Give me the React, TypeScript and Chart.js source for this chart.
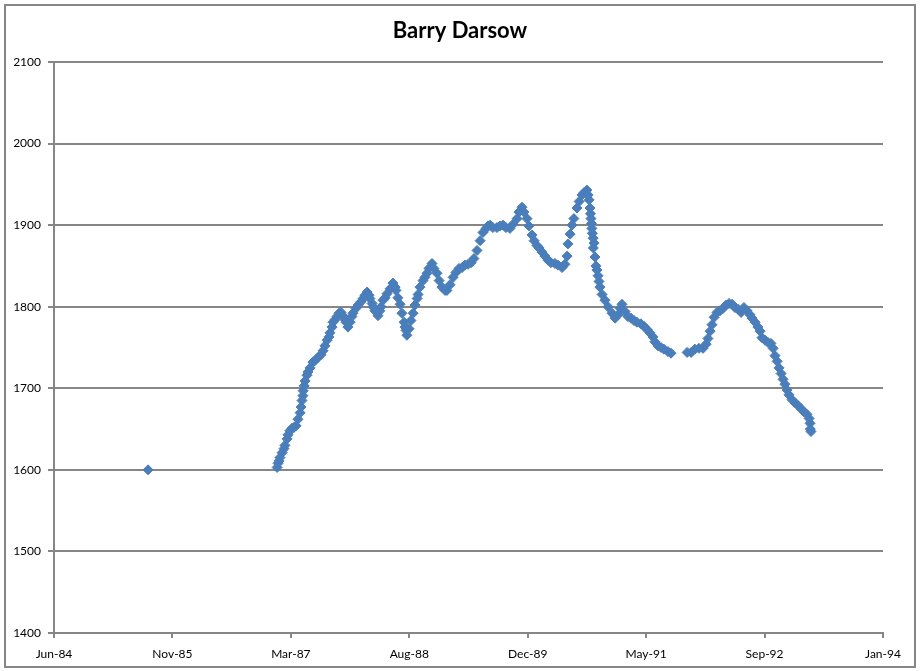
import { useEffect, useRef } from 'react';
import { Chart, registerables } from 'chart.js';

Chart.register(...registerables);

// X values are Excel date serials (days), Y values are ratings.
const dates = [
  // 1985
  31257,
  // 1987 rise
  31802, 31806, 31810, 31814, 31823, 31831, 31835, 31844, 31848, 31856,
  31865, 31873, 31882, 31890, 31899, 31903, 31907, 31911, 31912, 31916,
  31920, 31928, 31932, 31941, 31953, 31962, 31975, 31987, 31996, 32004,
  32013, 32021, 32025, 32034, 32038, 32046, 32055,
  // 1987-1989
  32063, 32072, 32080, 32089, 32093, 32101, 32110, 32118, 32122, 32135,
  32144, 32156, 32165, 32173, 32182, 32190, 32194, 32203, 32207, 32215,
  32228, 32236, 32241, 32249, 32258, 32266, 32279, 32291, 32300, 32304,
  32312, 32321, 32329, 32338, 32342, 32346, 32350, 32359, 32367, 32376,
  32384, 32393, 32397, 32405, 32418, 32426, 32435, 32443, 32456, 32464,
  32477, 32486, 32498, 32511, 32519, 32532, 32545, 32557, 32570, 32583,
  32595, 32608, 32621, 32633, 32646,
  // 1989-1991
  32659, 32671, 32684, 32692, 32701, 32713, 32730, 32743, 32756, 32768,
  32785, 32798, 32815, 32823, 32836, 32844, 32857, 32865, 32878, 32887,
  32899, 32908, 32920, 32933, 32946, 32958, 32975, 32988, 33005, 33017,
  33026, 33030, 33039, 33047, 33055, 33068, 33077, 33089, 33098, 33110,
  33115, 33119, 33123, 33125, 33127, 33129, 33131, 33133, 33136, 33137,
  33140, 33144, 33148, 33152, 33157, 33161, 33165,
  33174, 33186, 33199, 33216, 33229, 33241, 33250, 33258, 33271, 33283,
  33296, 33309, 33321, 33338, 33351, 33364, 33376, 33389, 33397, 33410,
  33423, 33435, 33452, 33465,
  // 1991-1993
  33533, 33550, 33566, 33583, 33600, 33613, 33621, 33630, 33638, 33647,
  33659, 33672, 33685, 33697, 33710, 33723, 33735, 33748, 33761, 33773,
  33786, 33799, 33807, 33820, 33832, 33841, 33849, 33862, 33875, 33887,
  33896, 33904, 33913, 33921, 33930, 33938, 33946, 33955, 33963, 33976,
  33989, 34001, 34014, 34027, 34039, 34048, 34052, 34053, 34056,
];

const ratings = [
  // 1985
  1600,
  // 1987 rise
  1603, 1608, 1611, 1615, 1621, 1626, 1630, 1638, 1643, 1648,
  1651, 1652, 1654, 1662, 1670, 1677, 1685, 1691, 1697, 1703,
  1709, 1716, 1720, 1725, 1732, 1734, 1738, 1741, 1746, 1752,
  1759, 1763, 1768, 1775, 1781, 1784, 1788,
  // 1987-1989
  1792, 1793, 1789, 1784, 1781, 1775, 1781, 1788, 1792, 1798,
  1802, 1806, 1810, 1814, 1818, 1814, 1810, 1804, 1800, 1795,
  1789, 1795, 1800, 1808, 1811, 1816, 1822, 1829, 1824, 1820,
  1811, 1803, 1792, 1781, 1775, 1771, 1765, 1773, 1783, 1792,
  1802, 1810, 1815, 1824, 1832, 1836, 1841, 1847, 1853, 1847,
  1841, 1832, 1824, 1820, 1820, 1827, 1836, 1842, 1847, 1848,
  1851, 1852, 1854, 1859, 1869,
  // 1989-1991
  1881, 1891, 1896, 1899, 1900, 1897, 1897, 1899, 1900, 1897,
  1896, 1901, 1908, 1916, 1922, 1916, 1908, 1899, 1888, 1881,
  1875, 1872, 1867, 1862, 1857, 1854, 1853, 1851, 1848, 1852,
  1862, 1877, 1889, 1900, 1908, 1921, 1929, 1937, 1940, 1943,
  1937, 1931, 1921, 1914, 1908, 1902, 1896, 1890, 1884, 1872,
  1878, 1861, 1850, 1845, 1838, 1831, 1824,
  1815, 1808, 1800, 1792, 1786, 1790, 1798, 1803, 1794, 1788,
  1786, 1783, 1781, 1779, 1776, 1772, 1768, 1763, 1757, 1752,
  1750, 1748, 1745, 1743,
  // 1991-1993
  1744, 1744, 1748, 1749, 1749, 1754, 1761, 1770, 1778, 1787,
  1793, 1795, 1798, 1802, 1804, 1803, 1799, 1797, 1793, 1799,
  1795, 1790, 1786, 1781, 1775, 1770, 1762, 1759, 1756, 1755,
  1749, 1740, 1733, 1725, 1718, 1711, 1705, 1698, 1692, 1686,
  1682, 1679, 1675, 1671, 1668, 1663, 1657, 1650, 1647,
];

const xTickValues = [30860, 31360, 31860, 32360, 32860, 33360, 33860, 34360];
const xTickLabels = ['Jun-84', 'Nov-85', 'Mar-87', 'Aug-88', 'Dec-89', 'May-91', 'Sep-92', 'Jan-94'];
const yMin = 1400;
const yMax = 2100;
const yStep = 100;
const titleText = 'Barry Darsow';

const FONT = 'Lato, "Liberation Sans", sans-serif';
const GRID = '#868686';
const MARK = '#4A7EBB';

export default function App() {
  const ref = useRef<HTMLCanvasElement>(null);

  useEffect(() => {
    if (!ref.current) return;
    const framePlugin = {
      id: 'frame',
      beforeDraw(chart: any) {
        const { ctx } = chart;
        ctx.save();
        ctx.fillStyle = '#ffffff';
        ctx.fillRect(0, 0, chart.width, chart.height);
        ctx.strokeStyle = GRID;
        ctx.lineWidth = 2;
        ctx.strokeRect(5, 5, 910, 662);
        ctx.restore();
      },
      afterDraw(chart: any) {
        const { ctx } = chart;
        ctx.save();
        ctx.fillStyle = '#000000';
        ctx.font = `bold 22px ${FONT}`;
        ctx.textAlign = 'center';
        ctx.textBaseline = 'middle';
        ctx.fillText(titleText, 460, 31);
        ctx.restore();
      },
    };

    const chart = new Chart(ref.current, {
      type: 'scatter',
      data: {
        datasets: [
          {
            data: dates.map((x, i) => ({ x, y: ratings[i] })),
            pointStyle: 'rectRot',
            pointRadius: 5,
            pointHoverRadius: 5,
            backgroundColor: MARK,
            borderColor: MARK,
            borderWidth: 1,
            showLine: false,
          },
        ],
      },
      options: {
        animation: false,
        responsive: true,
        maintainAspectRatio: false,
        events: [],
        layout: { padding: { top: 62, right: 37, left: 0, bottom: 0 } },
        plugins: {
          legend: { display: false },
          tooltip: { enabled: false },
          title: { display: false },
        },
        scales: {
          x: {
            type: 'linear',
            min: xTickValues[0],
            max: xTickValues[xTickValues.length - 1],
            afterBuildTicks: (s: any) => {
              s.ticks = xTickValues.map((v) => ({ value: v }));
            },
            afterFit: (s: any) => {
              s.height = 38;
            },
            ticks: {
              callback: (_v: any, i: number) => xTickLabels[i] ?? '',
              font: { family: FONT, size: 12 },
              color: '#000000',
              padding: 9,
              maxRotation: 0,
              autoSkip: false,
            },
            grid: {
              drawOnChartArea: false,
              drawTicks: true,
              tickLength: 5,
              color: GRID,
              lineWidth: 2,
            },
            border: { display: true, color: GRID, width: 2 },
          },
          y: {
            min: yMin,
            max: yMax,
            afterFit: (s: any) => {
              s.width = 54;
            },
            ticks: {
              stepSize: yStep,
              callback: (v: any) => String(v),
              font: { family: FONT, size: 12 },
              color: '#000000',
              padding: 7,
            },
            grid: {
              color: GRID,
              lineWidth: 2,
              tickLength: 6,
            },
            border: { display: true, color: GRID, width: 2 },
          },
        },
      },
      plugins: [framePlugin],
    } as any);

    return () => chart.destroy();
  }, []);

  return (
    <div style={{ position: 'absolute', left: 0, top: 0, width: 920, height: 671 }}>
      <canvas ref={ref} />
    </div>
  );
}
